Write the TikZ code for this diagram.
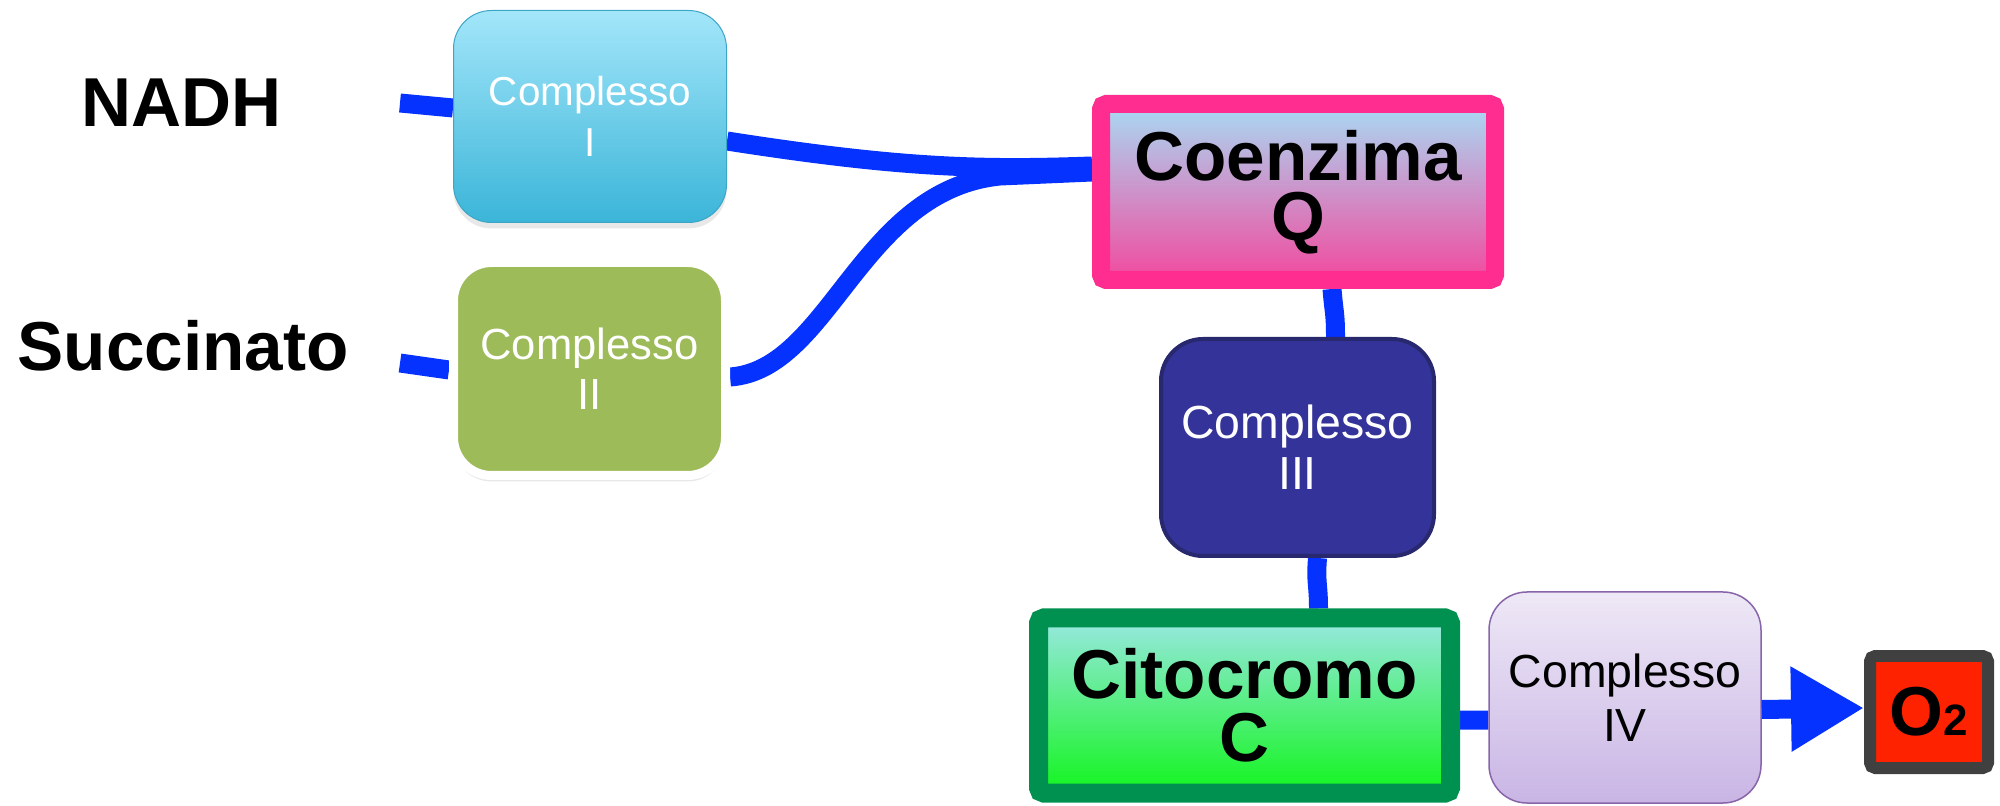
\documentclass[tikz,border=0pt]{standalone}
\usepackage{fontspec}
\setmainfont{Liberation Sans}
\usetikzlibrary{arrows.meta,shadows,backgrounds}
\definecolor{wire}{HTML}{0532FF}
\definecolor{cIt}{HTML}{A3E6FA}
\definecolor{cIb}{HTML}{3BB5D8}
\definecolor{cIe}{HTML}{3DA5C5}
\definecolor{cII}{HTML}{9DBB59}
\definecolor{qEdge}{HTML}{FF2D8F}
\definecolor{qTop}{HTML}{A8DAF4}
\definecolor{qBot}{HTML}{F24A9E}
\definecolor{cIII}{HTML}{343399}
\definecolor{cIIIe}{HTML}{28286E}
\definecolor{ctEdge}{HTML}{009150}
\definecolor{ctTop}{HTML}{99E8E2}
\definecolor{ctBot}{HTML}{12F51E}
\definecolor{cIVt}{HTML}{EEE8F6}
\definecolor{cIVb}{HTML}{C9B5E5}
\definecolor{cIVe}{HTML}{8865A8}
\definecolor{oEdge}{HTML}{404040}
\definecolor{oFill}{HTML}{FF2200}
\tikzset{
  conn/.style={line width=0.19cm, draw=wire},
  cplx/.style={rounded corners=0.38cm, align=center, inner sep=0pt},
  big/.style={font=\fontsize{19.7}{17}\selectfont\bfseries, inner sep=0pt},
  sbox/.style={rounded corners=1.5pt, align=center, inner sep=0pt}
}
\begin{document}
\begin{tikzpicture}
\useasboundingbox (0,0) rectangle (20,-8.06);
% labels
\node[big] (nadh) at (1.82,-1.03) {NADH};
\node[big] (succ) at (1.83,-3.46) {Succinato};
% complexes
\node[cplx, minimum width=2.73cm, minimum height=2.12cm, line width=0.01cm,
      draw=cIe, top color=cIt, bottom color=cIb, text=white,
      drop shadow={shadow xshift=0cm, shadow yshift=-0.06cm, opacity=0.18},
      font=\fontsize{11.5}{14.5}\selectfont] (c1) at (5.90,-1.165) {Complesso\\I};
\node[cplx, minimum width=2.72cm, minimum height=2.13cm, line width=0.09cm,
      draw=white, fill=cII, text=white,
      drop shadow={shadow xshift=0cm, shadow yshift=-0.06cm, opacity=0.18},
      font=\fontsize{12.4}{14.2}\selectfont] (c2) at (5.895,-3.69) {Complesso\\II};
\node[sbox, minimum width=3.94cm, minimum height=1.76cm, line width=0.18cm,
      draw=qEdge, top color=qTop, bottom color=qBot,
      font=\fontsize{19.7}{17.2}\selectfont\bfseries] (q) at (12.98,-1.92) {Coenzima\\Q};
\node[cplx, rounded corners=0.42cm, minimum width=2.73cm, minimum height=2.17cm, line width=0.04cm,
      draw=cIIIe, fill=cIII, text=white,
      font=\fontsize{13.2}{14.5}\selectfont] (c3) at (12.975,-4.475) {Complesso\\III};
\node[sbox, minimum width=4.12cm, minimum height=1.75cm, line width=0.19cm,
      draw=ctEdge, top color=ctTop, bottom color=ctBot,
      font=\fontsize{19.7}{17.9}\selectfont\bfseries] (cito) at (12.445,-7.055) {Citocromo\\C};
\node[cplx, minimum width=2.72cm, minimum height=2.11cm, line width=0.015cm,
      draw=cIVe, top color=cIVt, bottom color=cIVb,
      font=\fontsize{13.2}{15.4}\selectfont] (c4) at (16.25,-6.975) {Complesso\\IV};
\node[sbox, minimum width=1.18cm, minimum height=1.12cm, line width=0.12cm,
      draw=oEdge, fill=oFill,
      font=\fontsize{19.7}{20}\selectfont\bfseries] (o2) at (19.29,-7.12) {O{\fontsize{12.5}{12.5}\selectfont 2}};
% connectors
\coordinate (n0) at (4.0,-1.03);
\coordinate (s0) at (4.0,-3.63);
\coordinate (mg) at (10.0,-1.76);
\begin{scope}[on background layer]
\draw[conn] (n0) -- ([yshift=0.085cm]c1.west);
\draw[conn] (s0) -- ([yshift=-0.01cm]c2.west);
\draw[conn] ([yshift=-0.245cm]c1.east) .. controls (9.0,-1.68) and (9.8,-1.70) .. ([yshift=0.26cm]q.west);
\draw[conn] ([yshift=-0.08cm]c2.east) .. controls (8.3,-3.70) and (8.6,-1.90) .. (mg) -- ([yshift=0.2cm]q.west);
\draw[conn] ([xshift=0.34cm]q.south) .. controls +(0.02,-0.25) and +(0,0.25) .. ([xshift=0.38cm]c3.north);
\draw[conn] ([xshift=0.2cm]c3.south) .. controls +(-0.02,-0.25) and +(0,0.25) .. ([xshift=0.74cm]cito.north);
\draw[conn] ([yshift=-0.145cm]cito.east) -- ([yshift=-0.225cm]c4.west);
\end{scope}
\draw[conn, -{Triangle[length=0.73cm,width=0.80cm]}] ([yshift=-0.12cm]c4.east) -- ([yshift=0.04cm]o2.west);
\end{tikzpicture}
\end{document}
